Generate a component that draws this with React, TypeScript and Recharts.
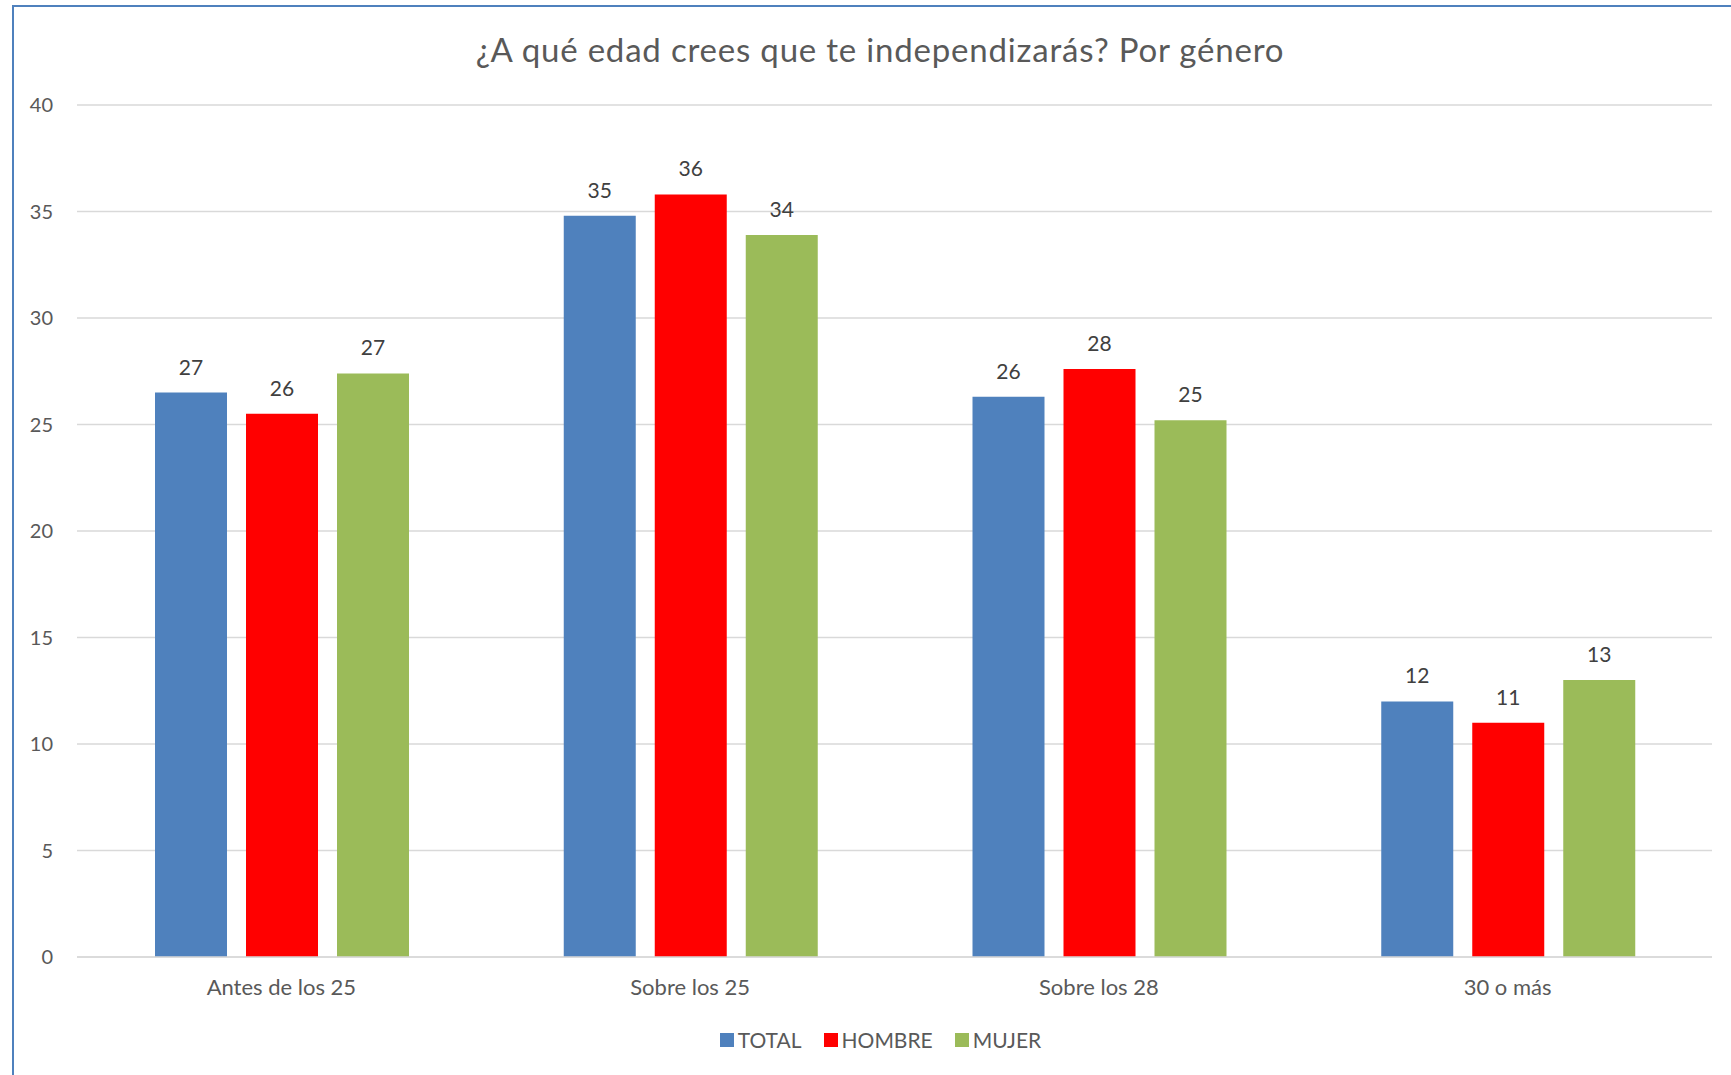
import React from "react";
import { Bar, BarChart, CartesianGrid, LabelList, Legend, XAxis, YAxis } from "recharts";

const categories = ["Antes de los 25", "Sobre los 25", "Sobre los 28", "30 o más"];
const total = [26.5, 34.8, 26.3, 12.0];
const hombre = [25.5, 35.8, 27.6, 11.0];
const mujer = [27.4, 33.9, 25.2, 13.0];
const yTicks = [0, 5, 10, 15, 20, 25, 30, 35, 40];
const seriesNames = ["TOTAL", "HOMBRE", "MUJER"];
const seriesColors = ["#4f81bd", "#ff0000", "#9bbb59"];

const FONT = "Lato, 'Open Sans', sans-serif";

const chartData = categories.map((name, i) => ({
  name,
  TOTAL: total[i],
  HOMBRE: hombre[i],
  MUJER: mujer[i],
}));

const LegendBox = () => (
  <div
    style={{
      display: "flex",
      justifyContent: "center",
      alignItems: "center",
      paddingLeft: 30,
      fontFamily: FONT,
      fontSize: 21,
      lineHeight: "24px",
      color: "#595959",
    }}>
    {seriesNames.map((s, i) => (
      <div key={s} style={{ display: "flex", alignItems: "center", marginRight: i < 2 ? 22 : 0 }}>
        <span
          style={{
            display: "inline-block",
            width: 14,
            height: 14,
            background: seriesColors[i],
            marginRight: 4,
          }}
        />
        <span>{s}</span>
      </div>
    ))}
  </div>
);

export default function App() {
  return (
    <div
      style={{
        position: "absolute",
        left: 0,
        top: 0,
        width: 1731,
        height: 1075,
        overflow: "hidden",
        background: "#fff",
      }}>
      <div
        style={{
          position: "absolute",
          left: 12,
          top: 5,
          width: 1800,
          height: 1200,
          border: "2px solid #4f81bd",
        }}
      />
      <div
        style={{
          position: "absolute",
          left: 30,
          width: 1700,
          top: 30,
          textAlign: "center",
          fontFamily: FONT,
          fontSize: 33,
          letterSpacing: 0.8,
          lineHeight: "38px",
          color: "#595959",
        }}>
        ¿A qué edad crees que te independizarás? Por género
      </div>
      <BarChart
        width={1731}
        height={1075}
        data={chartData}
        margin={{ top: 105, right: 19, bottom: 88, left: 0 }}
        barCategoryGap={78}
        barGap={19}>
        <CartesianGrid vertical={false} stroke="#d9d9d9" strokeWidth={1.5} />
        <XAxis
          dataKey="name"
          height={30}
          tickSize={0}
          tickMargin={22}
          tickLine={false}
          axisLine={{ stroke: "#d9d9d9", strokeWidth: 1.5 }}
          tick={{ fill: "#595959", fontSize: 22, fontFamily: FONT }}
        />
        <YAxis
          width={77}
          domain={[0, 40]}
          ticks={yTicks}
          tickSize={0}
          tickMargin={24}
          tickLine={false}
          axisLine={false}
          tick={{ fill: "#595959", fontSize: 20, fontFamily: FONT }}
        />
        <Legend
          verticalAlign="middle"
          align="center"
          content={<LegendBox />}
          wrapperStyle={{ top: 1028, left: 0, width: 1731 }}
        />
        {seriesNames.map((s, i) => (
          <Bar key={s} dataKey={s} fill={seriesColors[i]} isAnimationActive={false}>
            <LabelList
              dataKey={s}
              position="top"
              offset={18}
              formatter={(v: any) => Math.round(Number(v))}
              fill="#404040"
              fontSize={21}
              fontFamily={FONT}
            />
          </Bar>
        ))}
      </BarChart>
    </div>
  );
}
